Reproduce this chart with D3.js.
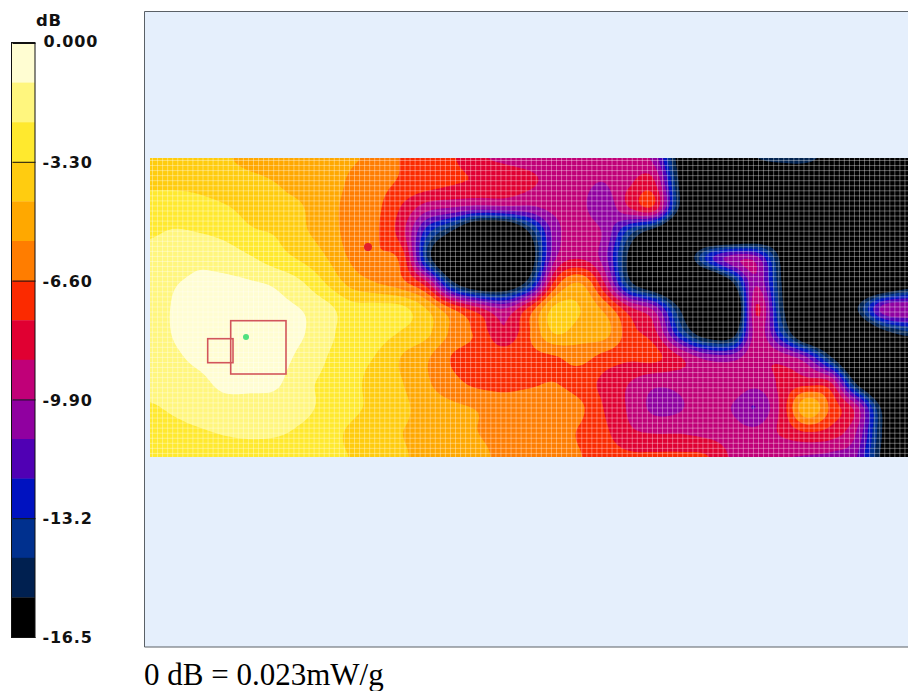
<!DOCTYPE html>
<html><head><meta charset="utf-8">
<script src="https://cdn.jsdelivr.net/npm/d3@7"></script>
<style>html,body{margin:0;padding:0;background:#fff;overflow:hidden}svg{display:block}</style>
</head><body><svg id="c" width="908" height="691"></svg>
<script>
const bandColors=["#fffdd2","#fff67e","#ffe92e","#ffcc10","#ffa800","#ff7d00","#fb2a00","#e00032","#c00078","#9000a0","#5000b4","#0012c0","#00308e","#002050","#000000"];
const tickValues=[0,-3.3,-6.6,-9.9,-13.2,-16.5];
const tickLabels=["0.000","-3.30","-6.60","-9.90","-13.2","-16.5"];
const footer="0 dB = 0.023mW/g";
const unit="dB";
const xNodes=[150,175,200,226,251,276,302,327,352,377,403,428,453,478,504,529,554,580,605,630,655,681,706,731,756,782,807,832,857,883,908];
const yNodes=[158,183,208,233,258,283,308,332,357,382,407,432,457];
const row0=[-3.7,-3.8,-3.95,-4.3,-4.7,-4.9,-5,-5.2,-5.4,-5.8,-6.7,-7.2,-7.6,-8.6,-9,-9.2,-9.2,-9.3,-9.6,-9.8,-10.4,-16.5,-18,-18,-15.5,-14.6,-14.6,-17,-19,-19,-19];
const row1=[-3.5,-3.5,-3.6,-3.9,-4.1,-4.4,-4.7,-5,-5.7,-6.2,-6.8,-7.2,-7.6,-7.9,-8.2,-8.6,-9.2,-9.6,-9.9,-8.9,-8.7,-16,-20,-20,-20,-20,-20,-20,-20,-20,-20];
const row2=[-2.7,-2.7,-2.9,-3.2,-3.7,-4.1,-4.35,-5.1,-5.9,-6.4,-7.9,-9.5,-10,-10.5,-10.3,-10.2,-9.6,-9.6,-10.6,-8.8,-8.2,-16,-20,-20,-20,-20,-20,-20,-20,-20,-20];
const row3=[-2.3,-2.1,-2.2,-2.5,-3.1,-3.4,-4.2,-4.9,-6,-6.5,-8.5,-13,-16,-20,-20,-15.5,-10.6,-9.2,-10.2,-14,-17,-20,-20,-20,-19,-18,-20,-20,-20,-20,-20];
const row4=[-1.9,-1.5,-1.3,-1.6,-2.1,-2.8,-3.5,-4.4,-5.7,-6.4,-7.2,-14.5,-20,-22,-22,-17,-10.2,-8.9,-10.6,-16,-20,-18,-13,-10.5,-10.5,-16,-20,-20,-20,-20,-20];
const row5=[-1.6,-1.15,-0.95,-0.85,-1,-1.3,-2.1,-3.4,-4.8,-5.5,-6.3,-8.7,-15,-18,-18,-14.5,-7.5,-5.5,-8.9,-15,-18,-20,-20,-16,-10,-15.5,-20,-20,-20,-19,-17];
const row6=[-1.5,-1,-0.55,-0.4,-0.5,-0.8,-1.15,-1.9,-2.9,-2.9,-3.1,-4.6,-6.8,-8.6,-10,-7.5,-4.2,-4.4,-5.9,-8.6,-10.5,-15.8,-20,-20,-8.7,-15,-20,-20,-15.5,-10.5,-10];
const row7=[-1.6,-1,-0.5,-0.2,-0.2,-0.5,-1,-1.9,-2.7,-2.9,-3.4,-4.2,-5.8,-6.9,-8.6,-6.7,-4.3,-4.9,-5.1,-7.3,-8.6,-13.5,-17,-17,-9.4,-13.5,-19,-20,-19,-16,-14.5];
const row8=[-1.7,-1.25,-0.85,-0.5,-0.35,-0.6,-1.4,-2.2,-2.8,-3.4,-4.5,-5.4,-6.7,-7.1,-7.2,-6.9,-6.7,-6.2,-7,-7.5,-7.4,-8.8,-10.3,-10.5,-9,-9.3,-11,-15.5,-20,-20,-20];
const row9=[-1.8,-1.5,-1.3,-0.8,-0.7,-0.9,-1.9,-2.4,-2.9,-3.9,-4.4,-5.4,-6.3,-6.9,-7,-6.8,-6.6,-7.1,-8,-8.8,-9.6,-9.5,-9,-9,-9.5,-8.6,-8.3,-9,-16,-20,-20];
const row10=[-2.3,-2,-1.7,-1.5,-1.6,-1.6,-1.9,-2.5,-3,-3.7,-4.2,-4.9,-5.3,-5.6,-6,-5.9,-5.9,-6.4,-7.8,-9,-10.2,-10,-9,-9.9,-11,-8.4,-4.6,-7,-9.6,-16,-20];
const row11=[-2.7,-2.5,-2.3,-2.1,-2,-2.05,-2.4,-2.9,-3.5,-4.1,-4.4,-4.7,-5,-5.5,-5.9,-6,-6.2,-6.7,-7.5,-8.6,-8.9,-8.9,-9.1,-9.3,-9.6,-8.6,-7.7,-8.2,-10,-15.6,-20];
const row12=[-3,-2.9,-2.8,-2.7,-2.7,-2.8,-2.9,-3.1,-3.35,-3.9,-4.3,-4.7,-4.9,-5.2,-5.8,-6.1,-6.3,-6.55,-7.2,-7.5,-7.5,-7.5,-7.6,-8.9,-9.3,-9.8,-10,-10.2,-11,-16,-20];
const rows=[row0,row1,row2,row3,row4,row5,row6,row7,row8,row9,row10,row11,row12];
const squareX=[230.7,207.7], squareY=[320.7,338.7], squareW=[55.3,25.3], squareH=[53.3,24];
const probeX=[246,368], probeY=[337,247], probeColor=["#4fe07f","#e3202c"], probeR=[3,4];

const svg=d3.select("#c");
svg.append("rect").attr("x",144).attr("y",11).attr("width",764).attr("height",636).attr("fill","#e5effc");
svg.append("path").attr("d","M908,11.5H144.5V647H908").attr("fill","none").attr("stroke","#5a6066");

// legend
const yL=d3.scaleLinear().domain([0,-16.5]).range([43,637]);
const band=16.5/bandColors.length;
svg.append("g").selectAll("rect").data(bandColors).join("rect")
 .attr("x",12).attr("width",23)
 .attr("y",(d,i)=>yL(-i*band)).attr("height",(d,i)=>yL(-(i+1)*band)-yL(-i*band)+0.3)
 .attr("fill",d=>d);
svg.append("rect").attr("x",11.5).attr("y",42.5).attr("width",23.5).attr("height",595).attr("fill","none").attr("stroke","#111").attr("stroke-width",1);
const ax=d3.axisRight(yL).tickValues(tickValues).tickFormat((d,i)=>tickLabels[i]).tickSize(-23).tickPadding(7);
const axg=svg.append("g").attr("transform","translate(35.5,0)").call(ax);
axg.select(".domain").remove();
axg.selectAll("line").attr("stroke","#111");
axg.selectAll("text").attr("font-family","DejaVu Sans").attr("font-weight","bold").attr("font-size",16).attr("letter-spacing",0.8).attr("fill","#111").attr("dy","0.36em");
axg.selectAll("text").filter((d,i)=>i===0).attr("transform","translate(1,-2)");
svg.append("text").attr("x",36).attr("y",26).attr("font-family","DejaVu Sans").attr("font-weight","bold").attr("font-size",16.5).attr("letter-spacing",0.8).attr("fill","#111").text(unit);
svg.append("text").attr("x",144).attr("y",685).attr("font-family","Liberation Serif").attr("font-size",31).attr("fill","#000").text(footer);

// field: cubic resampling of the node table, then filled contours
const sub=8, nx=xNodes.length, ny=yNodes.length;
function cr(a,b,c,d,t){return 0.5*((2*b)+(-a+c)*t+(2*a-5*b+4*c-d)*t*t+(-a+3*b-3*c+d)*t*t*t);}
const cl=(v,m)=>Math.max(0,Math.min(m,v));
const w=(nx-1)*sub+1,h=(ny-1)*sub+1,fine=new Float64Array(w*h);
for(let j=0;j<h;j++){const gy=j/sub,j0=Math.min(ny-2,Math.floor(gy)),ty=gy-j0;
 for(let i=0;i<w;i++){const gx=i/sub,i0=Math.min(nx-2,Math.floor(gx)),tx=gx-i0;
  const c=[-1,0,1,2].map(dj=>{const r=rows[cl(j0+dj,ny-1)];
    return cr(r[cl(i0-1,nx-1)],r[i0],r[cl(i0+1,nx-1)],r[cl(i0+2,nx-1)],tx);});
  fine[j*w+i]=cr(c[0],c[1],c[2],c[3],ty);}}
const xF=d3.scaleLinear().domain(d3.range(nx).map(d=>d*sub+0.5)).range(xNodes);
const yF=d3.scaleLinear().domain(d3.range(ny).map(d=>d*sub+0.5)).range(yNodes);
const path=d3.geoPath(d3.geoTransform({point(x,y){this.stream.point(xF(x),yF(y));}}));
const defs=svg.append("defs");
defs.append("clipPath").attr("id","fc").append("rect").attr("x",150).attr("y",158).attr("width",758).attr("height",299);
defs.append("filter").attr("id","soft").attr("x","-2%").attr("y","-2%").attr("width","104%").attr("height","104%").append("feGaussianBlur").attr("stdDeviation",0.7);
const gField=svg.append("g").attr("clip-path","url(#fc)");
const gSoft=gField.append("g").attr("filter","url(#soft)");
gSoft.append("rect").attr("x",146).attr("y",154).attr("width",766).attr("height",307).attr("fill",bandColors[14]);
const thresholds=d3.range(13,-1,-1).map(i=>-(i+1)*band);
const cs=d3.contours().size([w,h]).thresholds(thresholds).smooth(true)(Array.from(fine));
gSoft.selectAll("path").data(cs).join("path").attr("d",path)
 .attr("fill",d=>bandColors[Math.round(-d.value/band)-1]);

// measurement mesh
const step=5.05;
const mesh=gField.append("g").attr("stroke","#fff").attr("stroke-opacity",0.36).attr("stroke-width",1);
mesh.selectAll("line.v").data(d3.range(152.5,908,step)).join("line").attr("class","v").attr("x1",d=>d).attr("x2",d=>d).attr("y1",158).attr("y2",457);
mesh.selectAll("line.h").data(d3.range(160.5,457,step)).join("line").attr("class","h").attr("y1",d=>d).attr("y2",d=>d).attr("x1",150).attr("x2",908);

// overlays
svg.append("g").selectAll("rect").data(squareX).join("rect").attr("x",d=>d).attr("y",(d,i)=>squareY[i]).attr("width",(d,i)=>squareW[i]).attr("height",(d,i)=>squareH[i]).attr("fill","none").attr("stroke","#d2555c").attr("stroke-width",1.6);
svg.append("g").selectAll("circle").data(probeX).join("circle").attr("cx",d=>d).attr("cy",(d,i)=>probeY[i]).attr("r",(d,i)=>probeR[i]).attr("fill",(d,i)=>probeColor[i]);
</script></body></html>
